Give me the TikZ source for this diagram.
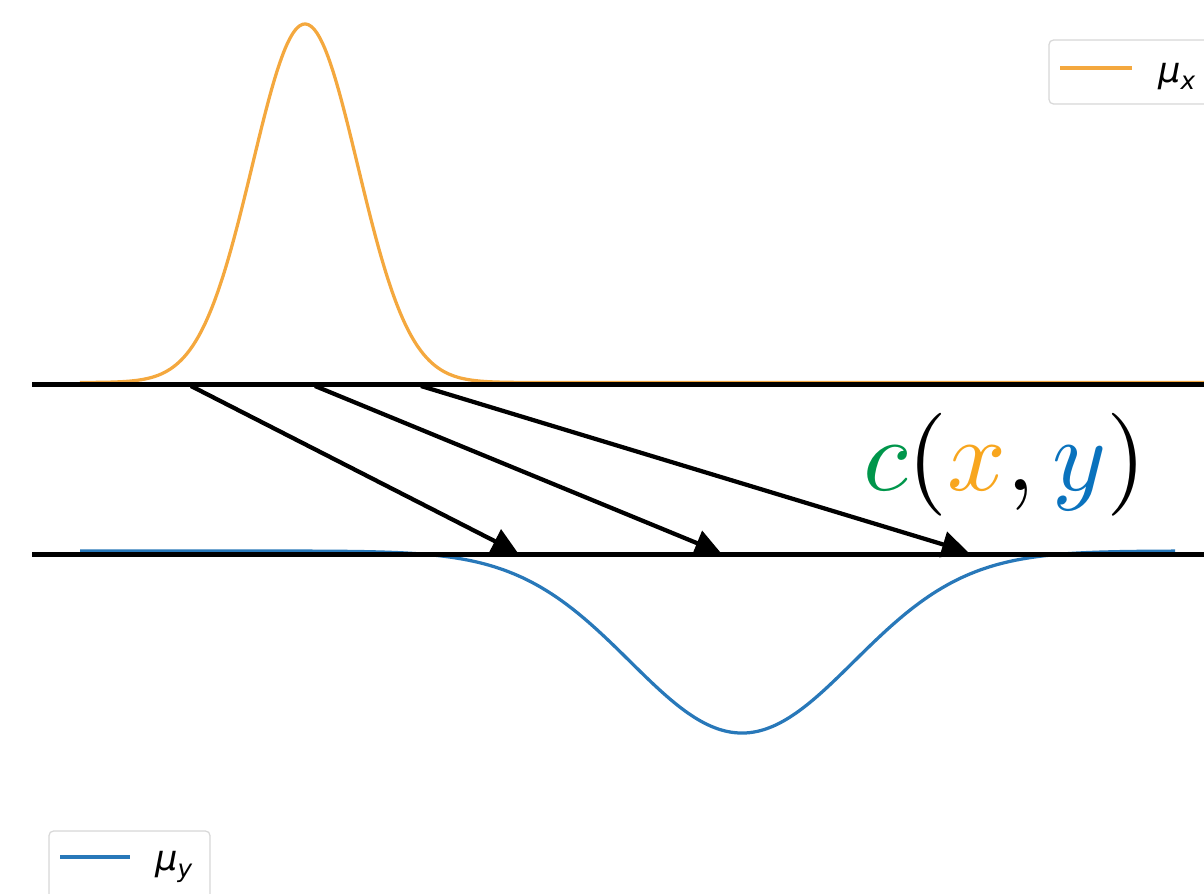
\documentclass[tikz,border=0pt]{standalone}
\usepackage{fontspec}
\newfontfamily\dvs{DejaVu Sans}
\usetikzlibrary{arrows.meta}
\definecolor{curveorange}{RGB}{244,168,62}
\definecolor{curveblue}{RGB}{40,120,185}
\definecolor{labgreen}{RGB}{0,150,75}
\definecolor{laborange}{RGB}{248,166,30}
\definecolor{labblue}{RGB}{10,114,189}
\definecolor{legframe}{RGB}{215,215,215}
\tikzset{
  axisline/.style={line width=0.1cm, black},
  mapping/.style={line width=0.085cm, black, -{Triangle[length=0.52cm,width=0.52cm]}},
  curve/.style={line width=0.065cm, line join=round},
  legbox/.style={draw=legframe, line width=0.7pt, fill=white, rounded corners=0.09cm},
  legline/.style={line width=0.08cm},
  legtext/.style={inner sep=0pt, anchor=base west, font=\dvs\itshape\fontsize{20}{24}\selectfont},
}
\begin{document}
\begin{tikzpicture}[x=0.02cm, y=-0.02cm]
\useasboundingbox (0,0) rectangle (1204,893);
\clip (0,0) rectangle (1204,893);
% curves
\draw[curve, curveorange] plot[domain=80:1204, samples=400, smooth] (\x, {382.5 - 358.5*exp(-0.5*((\x-305)/52.6)^2)});
\draw[curve, curveblue] plot[domain=80:1175, samples=400, smooth] (\x, {551 + 182*exp(-0.5*((\x-742)/112)^2)});
% horizontal lines
\coordinate (t0) at (32,384);
\coordinate (t1) at (1210,384);
\coordinate (b0) at (32,554);
\coordinate (b1) at (1210,554);
\draw[axisline] (t0) -- (t1);
\draw[axisline] (b0) -- (b1);
% mapping arrows
\coordinate (s1) at (191,386);
\coordinate (s2) at (315,386);
\coordinate (s3) at (421,386);
\coordinate (e1) at (518,553);
\coordinate (e2) at (721,553);
\coordinate (e3) at (968,552);
\draw[mapping] (s1) -- (e1);
\draw[mapping] (s2) -- (e2);
\draw[mapping] (s3) -- (e3);
% label
\node[scale=5.86, inner sep=0pt, anchor=base] (lab) at (1005,490) {$\color{labgreen}c\color{black}(\color{laborange}x\color{black},\color{labblue}y\color{black})$};
% legend top right
\draw[legbox] (1049,40) rectangle (1230,104);
\coordinate (lx0) at (1060,68);
\coordinate (lx1) at (1132,68);
\draw[legline, curveorange] (lx0) -- (lx1);
\node[legtext] (mux) at (1158,82) {μ\raisebox{-0.2em}{\fontsize{14}{16}\selectfont x}};
% legend bottom left
\draw[legbox] (49,831) rectangle (210,910);
\coordinate (ly0) at (60,857);
\coordinate (ly1) at (130,857);
\draw[legline, curveblue] (ly0) -- (ly1);
\node[legtext] (muy) at (155,870) {μ\raisebox{-0.2em}{\fontsize{14}{16}\selectfont y}};
\end{tikzpicture}
\end{document}
